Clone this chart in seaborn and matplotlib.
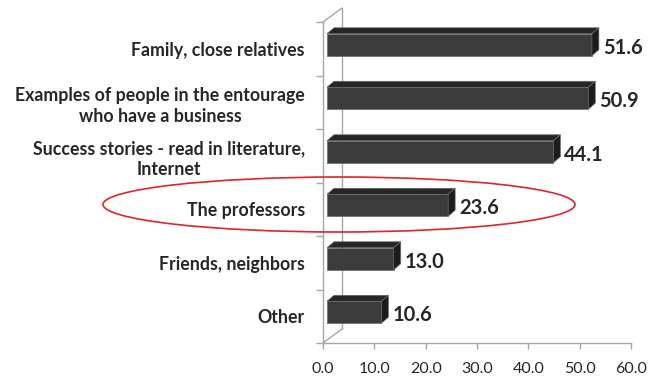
import matplotlib
matplotlib.use("Agg")
import matplotlib.pyplot as plt
import seaborn as sns
import pandas as pd
from matplotlib.patches import Polygon, Ellipse
from matplotlib.transforms import ScaledTranslation
from matplotlib.lines import Line2D

categories = ["Family, close relatives",
              "Examples of people in the entourage\nwho have a business",
              "Success stories - read in literature,\nInternet",
              "The professors",
              "Friends, neighbors",
              "Other"]
values = [51.6, 50.9, 44.1, 23.6, 13.0, 10.6]
xticks = [0, 10, 20, 30, 40, 50, 60]
xtick_labels = [f"{t:.1f}" for t in xticks]
highlight = "The professors"

sns.set_theme(style="white")
plt.rcParams['font.family'] = ['Lato', 'DejaVu Sans']

W, H = 648, 378
fig = plt.figure(figsize=(W / 100, H / 100), dpi=100)
ax_l, ax_r, ax_t, ax_b = 323, 631, 22, 343
ax = fig.add_axes([ax_l / W, 1 - ax_b / H, (ax_r - ax_l) / W, (ax_b - ax_t) / H])

df = pd.DataFrame({"cat": categories, "val": values})
sns.barplot(data=df, x="val", y="cat", orient="h", color="#3b3b3b",
            width=0.41, ax=ax, saturation=1, zorder=3)

ax.set_xlim(0, 60)
ax.set_ylim(len(categories) - 0.5, -0.5)

px_x = 60 / (ax_r - ax_l)
px_y = len(categories) / (ax_b - ax_t)

# 3D look: front shift and depth
front = ax.transData + ScaledTranslation(4 / 100, 4 / 100, fig.dpi_scale_trans)
dx, dy = 7 * px_x, 6 * px_y
for p in ax.patches:
    p.set_transform(front)
    p.set_edgecolor("#6a6a6a")
    p.set_linewidth(0.5)
    x0 = p.get_x()
    x1 = x0 + p.get_width()
    yt = p.get_y()
    yb = yt + p.get_height()
    top = Polygon([(x0, yt), (x1, yt), (x1 + dx, yt - dy), (x0 + dx, yt - dy)],
                  closed=True, facecolor="#262626", edgecolor="#6a6a6a",
                  linewidth=0.5, transform=front, zorder=3)
    side = Polygon([(x1, yt), (x1, yb), (x1 + dx, yb - dy), (x1 + dx, yt - dy)],
                   closed=True, facecolor="#1c1c1c", edgecolor="#6a6a6a",
                   linewidth=0.5, transform=front, zorder=3)
    ax.add_patch(top)
    ax.add_patch(side)

# value labels
for i, v in enumerate(values):
    ax.annotate(f"{v:.1f}", xy=(v, i), xytext=(15, 1),
                textcoords="offset pixels", ha="left", va="center",
                fontsize=14.5, fontweight="bold", color="#262626",
                annotation_clip=False, zorder=5)

# axes styling
wall_c = "#a6a6a6"
for s in ["top", "right"]:
    ax.spines[s].set_visible(False)
for s in ["left", "bottom"]:
    ax.spines[s].set_visible(True)
    ax.spines[s].set_color(wall_c)
    ax.spines[s].set_linewidth(1)

ax.set_xticks(xticks)
ax.set_xticklabels(xtick_labels, fontsize=11.5, color="#262626")
ax.tick_params(axis="x", bottom=True, length=4, width=1, color=wall_c, pad=10)
ax.set_yticks(range(len(categories)))
ax.set_yticklabels(categories, fontsize=12.8, fontweight="bold", color="#262626",
                   multialignment="center", linespacing=1.3)
ax.tick_params(axis="y", left=False, length=0, pad=13)
ax.set_yticks([i - 0.5 for i in range(len(categories) + 1)], minor=True)
ax.tick_params(axis="y", which="minor", left=True, length=5, width=1, color=wall_c)
ax.set_xlabel("")
ax.set_ylabel("")

# back wall
wall = ax.transAxes + ScaledTranslation(19 / 100, 14 / 100, fig.dpi_scale_trans)
ax.add_line(Line2D([0, 0], [0, 1], transform=wall, color=wall_c, lw=1,
                   clip_on=False, zorder=1))
for yy in [0, 1]:
    ax.add_line(Line2D([0, 19 / (ax_r - ax_l)], [yy, yy + 14 / (ax_b - ax_t)],
                       transform=ax.transAxes, color=wall_c, lw=1,
                       clip_on=False, zorder=1))

# highlight ellipse
hi = categories.index(highlight)
ell = Ellipse((339 / W, 1 - 204.5 / H), 472 / W, 55 / H, transform=fig.transFigure,
              fill=False, edgecolor="#e0242c", linewidth=1.2, zorder=10)
fig.add_artist(ell)

fig.savefig("out.png", dpi=100)
